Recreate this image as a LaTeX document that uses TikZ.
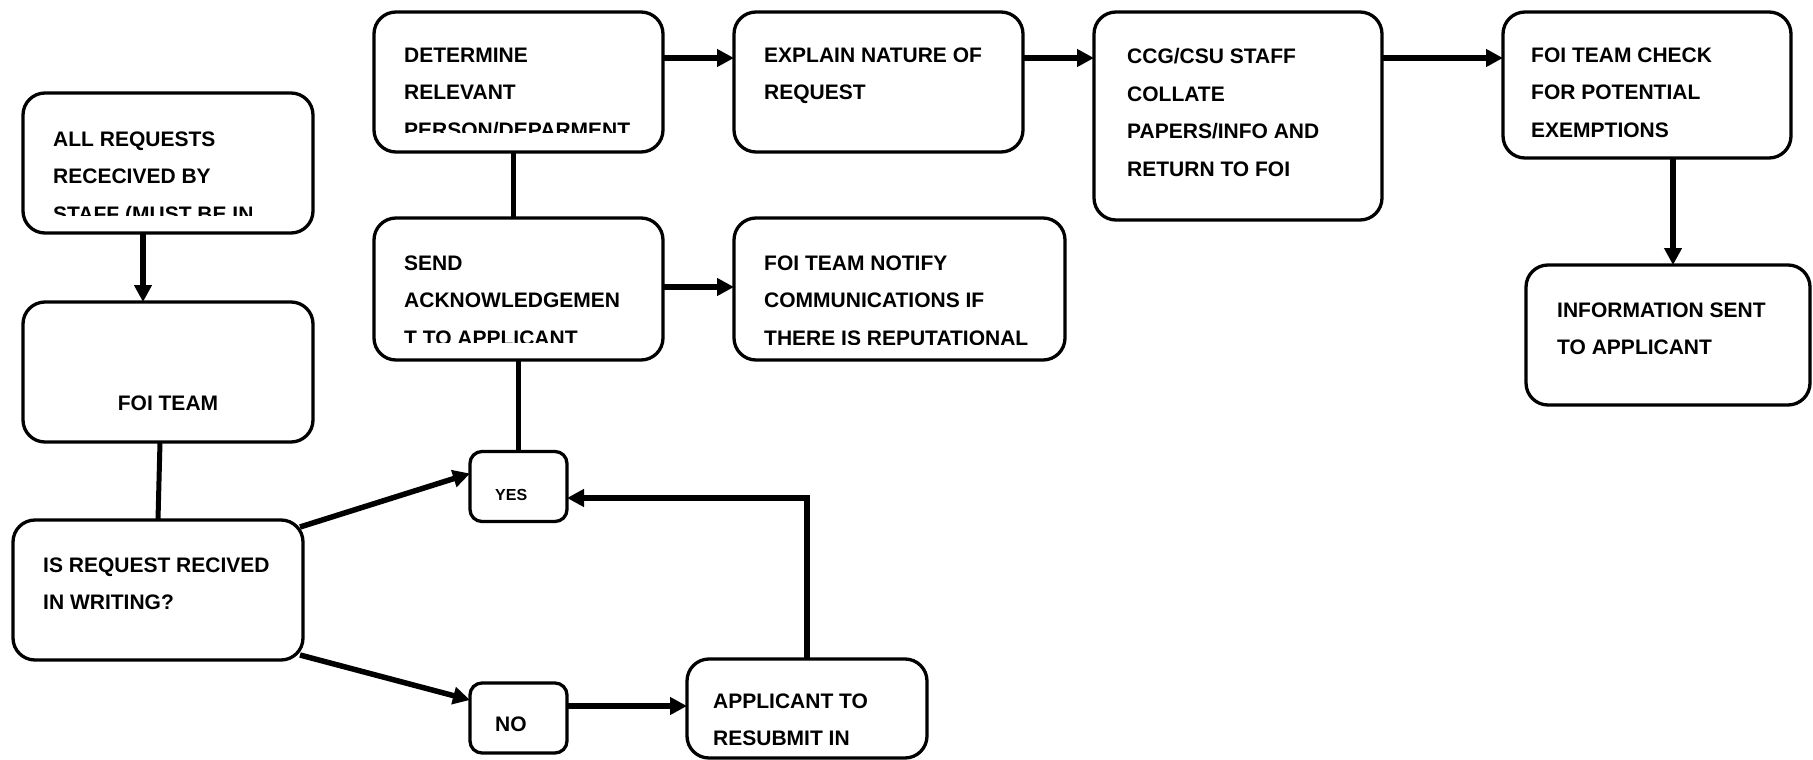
\documentclass[tikz,border=0pt]{standalone}
\usepackage{fontspec}
\setmainfont{Liberation Sans}
\usetikzlibrary{arrows.meta}

\tikzset{
  box/.style={draw, line width=3.3pt, rounded corners=22pt, minimum width=290pt, minimum height=140pt, inner sep=0pt, outer sep=0pt},
  small/.style={draw, line width=3.3pt, rounded corners=12pt, minimum width=97pt, minimum height=70pt, inner sep=0pt, outer sep=0pt},
  lbl/.style={anchor=base west, align=left, inner sep=0pt, font=\fontsize{21}{37.5}\selectfont\bfseries},
  arr/.style={line width=5.5pt, -{Triangle[length=17pt,width=17pt]}},
  link/.style={line width=5pt}
}

\begin{document}
\begin{tikzpicture}[x=1pt,y=-1pt]
\useasboundingbox (0,0) rectangle (1813,760);

\node[box] (req) at (168,163) {};
\node[box] (foi) at (168,372) {};
\node[box] (q) at (158,590) {};
\node[box, minimum width=289pt] (det) at (518.5,82) {};
\node[box, minimum width=289pt, minimum height=142pt] (send) at (518.5,289) {};
\node[box, minimum width=289pt] (expl) at (878.5,82) {};
\node[box, minimum width=331pt, minimum height=142pt] (notify) at (899.5,289) {};
\node[box, minimum width=288pt, minimum height=208pt] (ccg) at (1238,116) {};
\node[box, minimum width=288pt, minimum height=146pt] (check) at (1647,85) {};
\node[box, minimum width=284pt] (info) at (1668,335) {};
\node[small] (yes) at (518.5,486.5) {};
\node[small] (no) at (518.5,718) {};
\node[box, minimum width=240pt, minimum height=99pt] (appl) at (807,708.5) {};

\begin{scope}
\clip (req.north west) rectangle ([yshift=18pt]req.south east);
\node[lbl] (req-t) at ([shift={(30,128)}]req.north west) {ALL REQUESTS\\RECECIVED BY\\STAFF (MUST BE IN};
\end{scope}
\node[lbl, anchor=base] (foi-t) at ([yshift=-108pt]foi.north) {FOI TEAM};
\node[lbl] (q-t) at ([shift={(30,89.5)}]q.north west) {IS REQUEST RECIVED\\IN WRITING?};
\begin{scope}
\clip (det.north west) rectangle ([yshift=20pt]det.south east);
\node[lbl] (det-t) at ([shift={(30,125)}]det.north west) {DETERMINE\\RELEVANT\\PERSON/DEPARMENT};
\end{scope}
\begin{scope}
\clip (send.north west) rectangle ([yshift=18pt]send.south east);
\node[lbl] (send-t) at ([shift={(30,127)}]send.north west) {SEND\\ACKNOWLEDGEMEN\\T TO APPLICANT};
\end{scope}
\node[lbl] (expl-t) at ([shift={(30,87.5)}]expl.north west) {EXPLAIN NATURE OF\\REQUEST};
\begin{scope}
\clip (notify.north west) rectangle ([yshift=16pt]notify.south east);
\node[lbl] (notify-t) at ([shift={(30,127)}]notify.north west) {FOI TEAM NOTIFY\\COMMUNICATIONS IF\\THERE IS REPUTATIONAL};
\end{scope}
\node[lbl] (ccg-t) at ([shift={(33,164)}]ccg.north west) {CCG/CSU STAFF\\COLLATE\\PAPERS/INFO AND\\RETURN TO FOI};
\node[lbl] (check-t) at ([shift={(28,125)}]check.north west) {FOI TEAM CHECK\\FOR POTENTIAL\\EXEMPTIONS};
\node[lbl] (info-t) at ([shift={(31,89.5)}]info.north west) {INFORMATION SENT\\TO APPLICANT};
\node[lbl, font=\fontsize{16}{18}\selectfont\bfseries] (yes-t) at ([shift={(-23.5,13.5)}]yes.center) {YES};
\node[lbl] (no-t) at ([shift={(-23.5,13)}]no.center) {NO};
\node[lbl] (appl-t) at ([shift={(26,86.5)}]appl.north west) {APPLICANT TO\\RESUBMIT IN};

\draw[arr] ([xshift=-25pt]req.south) -- ([xshift=-25pt]foi.north);
\draw[link] ([xshift=-8pt]foi.south) -- (q.north);
\draw[arr] ([shift={(-3,7)}]q.north east) -- ([yshift=13pt]yes.west);
\draw[arr] ([shift={(-3,-5)}]q.south east) -- ([yshift=18pt]no.west);
\draw[arr] ([yshift=12pt]no.east) -- ([yshift=2.5pt]appl.west);
\draw[arr] (appl.north) |- ([yshift=-11.5pt]yes.east);
\draw[link] ([xshift=-5pt]det.south) -- ([xshift=-5pt]send.north);
\draw[link] (send.south) -- (yes.north);
\draw[arr] ([yshift=-46pt]det.north east) -- ([yshift=-46pt]expl.north west);
\draw[arr] ([yshift=-46pt]expl.north east) -- ([yshift=-46pt]ccg.north west);
\draw[arr] ([yshift=-46pt]ccg.north east) -- ([yshift=-46pt]check.north west);
\draw[arr] ([yshift=-69pt]send.north east) -- ([yshift=-69pt]notify.north west);
\draw[arr] ([xshift=26pt]check.south) -- ([xshift=5pt]info.north);
\end{tikzpicture}
\end{document}
